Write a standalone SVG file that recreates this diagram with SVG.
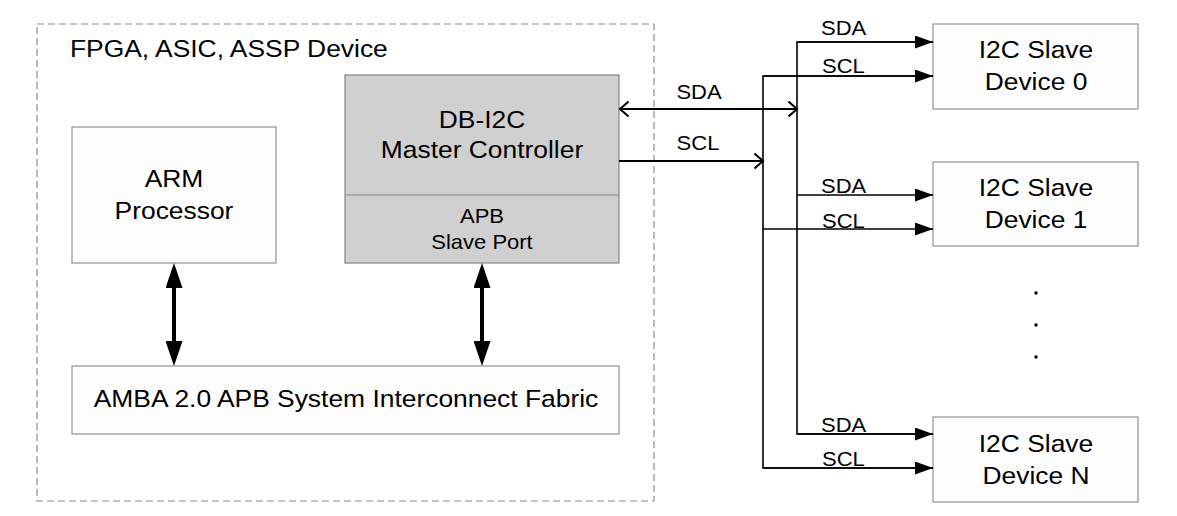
<svg xmlns="http://www.w3.org/2000/svg" width="1177" height="516" viewBox="0 0 1177 516">
<defs>
<style>
.t{font-family:"Liberation Sans",Arial,sans-serif;fill:#000;}
.big{font-size:24px;}
.med{font-size:20px;}
.box{fill:#fdfdfd;stroke:#9a9a9a;stroke-width:1.3;}
.gbox{fill:#d0d0d0;stroke:#8a8a8a;stroke-width:1.3;}
.wire{fill:none;stroke:#000;stroke-width:1.6;}
.wire2{fill:none;stroke:#000;stroke-width:2.2;}
.thick{fill:none;stroke:#000;stroke-width:4;}
</style>
<marker id="bigHead" markerUnits="userSpaceOnUse" viewBox="0 0 25 17" markerWidth="25" markerHeight="17" refX="5" refY="8.5" orient="auto-start-reverse">
<path d="M0,0 L25,8.5 L0,17 z" fill="#000"/>
</marker>
<marker id="openHead" markerUnits="userSpaceOnUse" viewBox="-1 -1 12 18" markerWidth="12" markerHeight="18" refX="8.5" refY="7.5" orient="auto-start-reverse">
<path d="M0,0 L8.5,7.5 L0,15" fill="none" stroke="#000" stroke-width="2"/>
</marker>
<marker id="fillHead" markerUnits="userSpaceOnUse" viewBox="0 0 18 13" markerWidth="18" markerHeight="13" refX="18" refY="6.5" orient="auto">
<path d="M0,0 L18,6.5 L0,13 z" fill="#000"/>
</marker>
</defs>
<rect width="1177" height="516" fill="#fff"/>

<g id="device">
<rect x="37" y="24" width="617" height="477" fill="none" stroke="#8c8c8c" stroke-width="1.2" stroke-dasharray="7,4"/>
<text class="t big" transform="translate(70 57) scale(1.1 1)">FPGA, ASIC, ASSP Device</text>
</g>

<g id="arm">
<rect class="box" x="72" y="127" width="204" height="136"/>
<text class="t big" text-anchor="middle" transform="translate(174 187) scale(1.1 1)">ARM</text>
<text class="t big" text-anchor="middle" transform="translate(174 219) scale(1.1 1)">Processor</text>
</g>

<g id="master">
<rect class="gbox" x="345" y="75" width="274" height="188"/>
<line x1="345" y1="195" x2="619" y2="195" stroke="#8a8a8a" stroke-width="1.2"/>
<text class="t big" text-anchor="middle" transform="translate(482 128) scale(1.1 1)">DB-I2C</text>
<text class="t big" text-anchor="middle" transform="translate(482 158) scale(1.1 1)">Master Controller</text>
<text class="t med" text-anchor="middle" transform="translate(482 223) scale(1.1 1)">APB</text>
<text class="t med" text-anchor="middle" transform="translate(482 249) scale(1.1 1)">Slave Port</text>
</g>

<g id="amba">
<rect class="box" x="72" y="366" width="547" height="68"/>
<text class="t big" text-anchor="middle" transform="translate(346 407) scale(1.1 1)">AMBA 2.0 APB System Interconnect Fabric</text>
</g>

<g id="slave0">
<rect class="box" x="933" y="24" width="205" height="85"/>
<text class="t big" text-anchor="middle" transform="translate(1036 58) scale(1.1 1)">I2C Slave</text>
<text class="t big" text-anchor="middle" transform="translate(1036 90) scale(1.1 1)">Device 0</text>
</g>

<g id="slave1">
<rect class="box" x="933" y="162" width="205" height="84"/>
<text class="t big" text-anchor="middle" transform="translate(1036 196) scale(1.1 1)">I2C Slave</text>
<text class="t big" text-anchor="middle" transform="translate(1036 228) scale(1.1 1)">Device 1</text>
</g>

<g id="slaveN">
<rect class="box" x="933" y="417" width="205" height="85"/>
<text class="t big" text-anchor="middle" transform="translate(1036 452) scale(1.1 1)">I2C Slave</text>
<text class="t big" text-anchor="middle" transform="translate(1036 484) scale(1.1 1)">Device N</text>
</g>

<g id="ellipsis" fill="#000">
<rect x="1034.5" y="291.5" width="3" height="3"/>
<rect x="1034.5" y="323.5" width="3" height="3"/>
<rect x="1034.5" y="355.5" width="3" height="3"/>
</g>

<g id="connectors">
<line class="thick" x1="174" y1="283" x2="174" y2="346" marker-start="url(#bigHead)" marker-end="url(#bigHead)"/>
<line class="thick" x1="482" y1="283" x2="482" y2="346" marker-start="url(#bigHead)" marker-end="url(#bigHead)"/>

<line class="wire2" x1="620" y1="109" x2="797" y2="109" marker-start="url(#openHead)" marker-end="url(#openHead)"/>
<line class="wire2" x1="619" y1="161" x2="763" y2="161" marker-end="url(#openHead)"/>

<polyline class="wire" points="933,42 797,42 797,434 933,434"/>
<polyline class="wire" points="933,76 763,76 763,468 933,468"/>
<line class="wire" x1="797" y1="42" x2="933" y2="42" marker-end="url(#fillHead)"/>
<line class="wire" x1="763" y1="76" x2="933" y2="76" marker-end="url(#fillHead)"/>
<line class="wire" x1="797" y1="195" x2="933" y2="195" marker-end="url(#fillHead)"/>
<line class="wire" x1="763" y1="229" x2="933" y2="229" marker-end="url(#fillHead)"/>
<line class="wire" x1="797" y1="434" x2="933" y2="434" marker-end="url(#fillHead)"/>
<line class="wire" x1="763" y1="468" x2="933" y2="468" marker-end="url(#fillHead)"/>

<text class="t med" text-anchor="middle" transform="translate(699 99) scale(1.1 1)">SDA</text>
<text class="t med" text-anchor="middle" transform="translate(698 150) scale(1.1 1)">SCL</text>
<text class="t med" transform="translate(821 35) scale(1.1 1)">SDA</text>
<text class="t med" transform="translate(822 73) scale(1.1 1)">SCL</text>
<text class="t med" transform="translate(821 193) scale(1.1 1)">SDA</text>
<text class="t med" transform="translate(822 228) scale(1.1 1)">SCL</text>
<text class="t med" transform="translate(821 432) scale(1.1 1)">SDA</text>
<text class="t med" transform="translate(822 466) scale(1.1 1)">SCL</text>
</g>
</svg>
